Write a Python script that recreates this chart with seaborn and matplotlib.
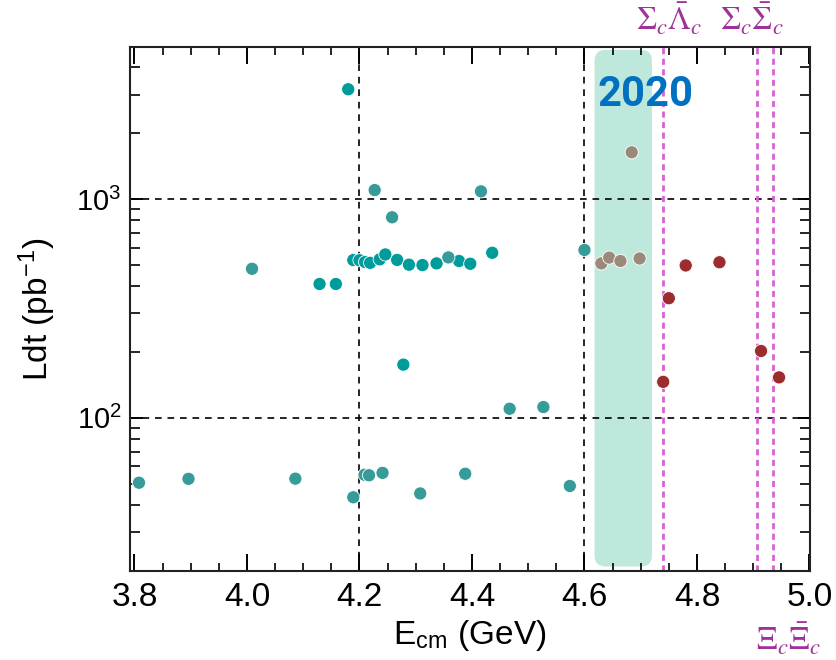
import numpy as np
import pandas as pd
import matplotlib
matplotlib.use("Agg")
import matplotlib.pyplot as plt
import matplotlib.transforms as mtransforms
from matplotlib.patches import FancyBboxPatch
import seaborn as sns

# ---- data ----
teal_x = [4.129, 4.158, 4.180, 4.189, 4.200, 4.210, 4.219, 4.236, 4.246, 4.267,
          4.278, 4.288, 4.312, 4.337, 4.377, 4.397, 4.436]
teal_y = [409, 409, 3175, 526, 525, 515, 511, 530, 558, 527,
          175, 501, 499, 508, 521, 506, 568]

teal2_x = [3.808, 3.896, 4.009, 4.086, 4.189, 4.209, 4.217, 4.227, 4.241, 4.258,
           4.308, 4.358, 4.388, 4.416, 4.467, 4.527, 4.574, 4.600]
teal2_y = [50.5, 52.6, 480, 52.7, 43.3, 54.9, 54.6, 1099, 56.0, 825,
           45.1, 541, 55.5, 1084, 110, 112, 48.8, 585]

gray_x = [4.630, 4.644, 4.664, 4.684, 4.698]
gray_y = [508, 540, 521, 1636, 535]

red_x = [4.740, 4.750, 4.780, 4.840, 4.914, 4.946]
red_y = [146, 352, 497, 514, 202, 153]

thresholds = [4.739, 4.906, 4.936]
threshold_labels = [r"$\mathrm{\Sigma}_{\mathit{c}}\bar{\mathrm{\Lambda}}_{\mathit{c}}$",
                    r"$\mathrm{\Sigma}_{\mathit{c}}\bar{\mathrm{\Sigma}}_{\mathit{c}}$",
                    r"$\mathrm{\Xi}_{\mathit{c}}\bar{\mathrm{\Xi}}_{\mathit{c}}$"]

xticks = [3.8, 4.0, 4.2, 4.4, 4.6, 4.8, 5.0]
yticks = [100, 1000]
ytick_labels = [r"$\mathregular{10^{2}}$", r"$\mathregular{10^{3}}$"]
band_range = (4.618, 4.720)
band_label = "2020"

df = pd.concat([
    pd.DataFrame({"E": teal_x, "L": teal_y, "grp": "teal"}),
    pd.DataFrame({"E": teal2_x, "L": teal2_y, "grp": "teal2"}),
    pd.DataFrame({"E": gray_x, "L": gray_y, "grp": "gray"}),
    pd.DataFrame({"E": red_x, "L": red_y, "grp": "red"}),
], ignore_index=True)
palette = {"teal": "#009b9b", "teal2": "#379b99", "gray": "#9a8a7c", "red": "#9b2d2f"}

sns.set_style("ticks")
plt.rcParams["font.family"] = ["Liberation Sans", "DejaVu Sans"]
plt.rcParams["mathtext.fontset"] = "stix"
plt.rcParams["text.color"] = "black"
plt.rcParams["axes.labelcolor"] = "black"
plt.rcParams["xtick.color"] = "black"
plt.rcParams["ytick.color"] = "black"

fig = plt.figure(figsize=(8.36, 6.6), dpi=100)
ax = fig.add_axes([130 / 836, 1 - 570.7 / 660, (810 - 130) / 836, (570.7 - 46.7) / 660])

ax.set_xlim(3.792, 5.001)
ax.set_yscale("log")
ax.set_ylim(20, 4970)

# highlight band (rounded)
bx0 = (band_range[0] - 3.792) / (5.001 - 3.792)
bw = (band_range[1] - band_range[0]) / (5.001 - 3.792)
band = FancyBboxPatch((bx0, 0.008), bw, 0.986,
                      boxstyle="round,pad=0,rounding_size=0.016",
                      mutation_aspect=680 / 524,
                      transform=ax.transAxes, facecolor="#bfe8dc",
                      edgecolor="none", zorder=0)
ax.add_patch(band)

# reference grid lines
for yv in [100, 1000]:
    ax.axhline(yv, color="black", ls=(0, (4, 3.5)), lw=1.2, zorder=1)
for xv in [4.2, 4.6]:
    ax.axvline(xv, color="black", ls=(0, (4, 3.5)), lw=1.2, zorder=1)

# threshold lines
for xv in thresholds:
    ax.axvline(xv, color="#d862d4", ls=(0, (2.2, 1.6)), lw=2.0, zorder=1)

sns.scatterplot(data=df, x="E", y="L", hue="grp", palette=palette, s=90,
                edgecolor="white", linewidth=0.6, legend=False, ax=ax, zorder=3)

trans = mtransforms.blended_transform_factory(ax.transData, ax.transAxes)
ax.text(4.7087, 0.908, band_label, transform=trans, ha="center", va="center",
        fontsize=30, fontweight="bold", color="#0070c0",
        family=["Liberation Sans Narrow", "Roboto", "DejaVu Sans"], zorder=4)

lab_col = "#a0309a"
ax.text(4.750, 1.052, threshold_labels[0], transform=trans, ha="center", va="center",
        fontsize=23, color=lab_col)
ax.text(4.897, 1.052, threshold_labels[1], transform=trans, ha="center", va="center",
        fontsize=23, color=lab_col)
ax.text(4.963, -0.132, threshold_labels[2], transform=trans, ha="center", va="center",
        fontsize=23, color=lab_col)

ax.set_xticks(xticks)
ax.set_xticklabels([f"{v:.1f}" for v in xticks])
ax.xaxis.set_minor_locator(matplotlib.ticker.MultipleLocator(0.05))
ax.set_yticks(yticks)
ax.set_yticklabels(ytick_labels)
ax.yaxis.set_minor_locator(matplotlib.ticker.LogLocator(base=10, subs=np.arange(2, 10)))
ax.yaxis.set_minor_formatter(matplotlib.ticker.NullFormatter())
ax.tick_params(axis="x", which="major", direction="in", length=12, width=1.4,
               top=True, labelsize=24, pad=8)
ax.tick_params(axis="x", which="minor", direction="in", length=6, width=1.2, top=True)
ax.tick_params(axis="y", which="major", direction="in", length=9, width=1.4,
               right=True, labelsize=21, pad=6)
ax.tick_params(axis="y", which="minor", direction="in", length=7, width=1.2, right=True)

ax.set_xlabel(r"E$_{\mathregular{cm}}$ (GeV)", fontsize=24, labelpad=4)
ax.set_ylabel(r"Ldt (pb$^{\mathregular{-1}}$)", fontsize=24, labelpad=14)

for sp in ax.spines.values():
    sp.set_linewidth(1.5)
    sp.set_color("#222222")

fig.savefig("out.png", dpi=100)
